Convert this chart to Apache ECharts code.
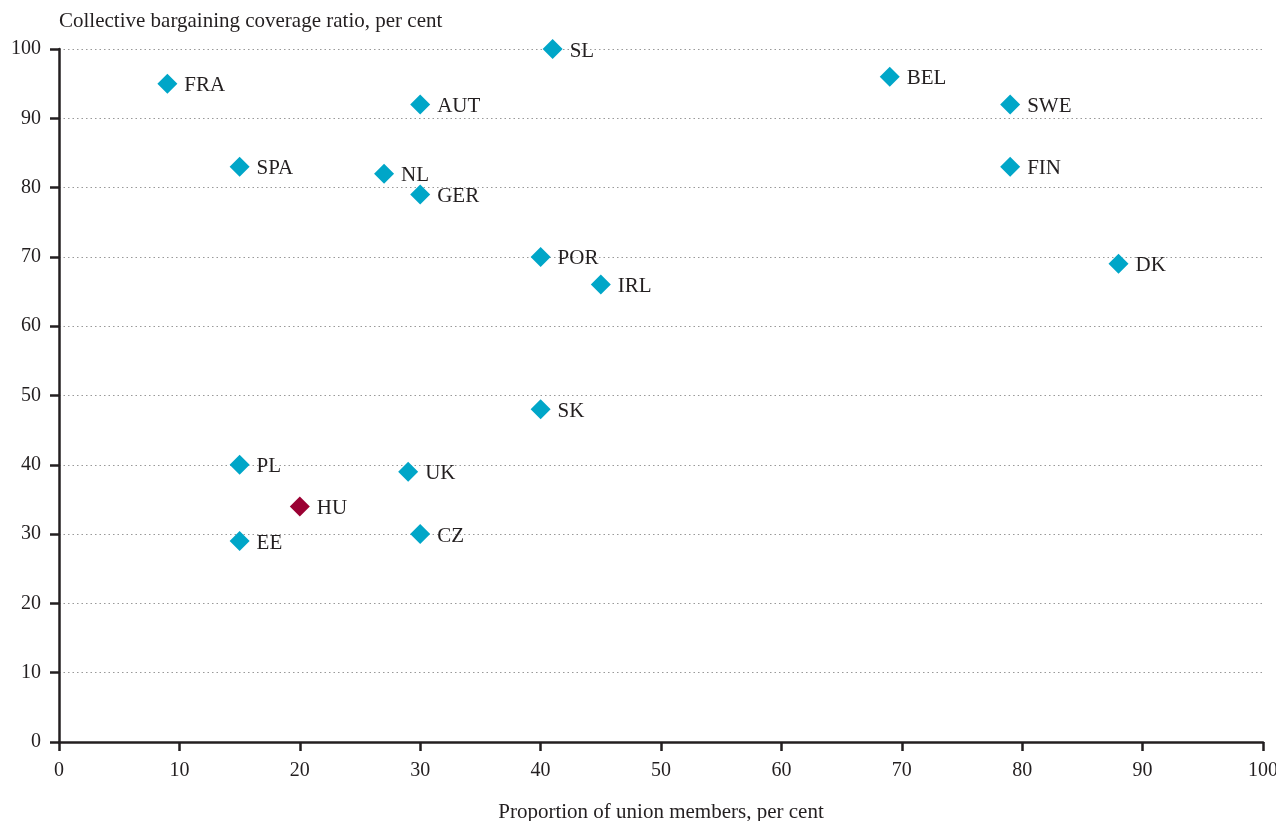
<!DOCTYPE html>
<html><head><meta charset="utf-8">
<script src="https://cdn.jsdelivr.net/npm/echarts@6/dist/echarts.min.js"></script>
<style>html,body{margin:0;padding:0;background:#fff}#c{width:1276px;height:821px}</style>
</head><body><div id="c"></div>
<script>
const countries = ["FRA","SL","AUT","BEL","SWE","FIN","SPA","NL","GER","POR","IRL","DK","SK","PL","UK","EE","CZ"];
const unionMembers = [9,41,30,69,79,79,15,27,30,40,45,88,40,15,29,15,30];
const coverage = [95,100,92,96,92,83,83,82,79,70,66,69,48,40,39,29,30];
const hlCountries = ["HU"];
const hlUnion = [20];
const hlCoverage = [34];
const xTicks = [0,10,20,30,40,50,60,70,80,90,100];

const font = "'Liberation Serif','Times New Roman',serif";
const ink = '#231f20';
const chart = echarts.init(document.getElementById('c'));
const lbl = {show:true, position:'right', formatter:p=>p.data[2], color:ink, fontFamily:font, fontSize:21, distance:7, offset:[0,2]};
chart.setOption({
  animation:false,
  grid:{left:59, right:13, top:49, bottom:79, outerBoundsMode:'none', containLabel:false},
  xAxis:{type:'value', min:0, max:100, interval:10,
    name:'Proportion of union members, per cent', nameLocation:'middle', nameGap:60,
    nameTextStyle:{color:ink, fontFamily:font, fontSize:21},
    axisLine:{lineStyle:{color:ink, width:2.5}},
    axisTick:{show:true, length:9, lineStyle:{color:ink, width:2.5}},
    axisLabel:{color:ink, fontFamily:font, fontSize:20, margin:19, formatter:v=>xTicks.includes(v)?String(v):''},
    splitLine:{show:false}},
  yAxis:{type:'value', min:0, max:100, interval:10,
    name:'Collective bargaining coverage ratio, per cent', nameLocation:'end', nameGap:17,
    nameTextStyle:{color:ink, fontFamily:font, fontSize:21, align:'left'},
    axisLine:{show:true, onZero:false, lineStyle:{color:ink, width:2.5}},
    axisTick:{show:true, length:9, lineStyle:{color:ink, width:2.5}},
    axisLabel:{color:ink, fontFamily:font, fontSize:20, margin:18},
    splitLine:{show:true, lineStyle:{color:'#999', type:[1.5,3], width:1}}},
  series:[
    {type:'scatter', symbol:'diamond', symbolSize:20, itemStyle:{color:'#00A6C8', opacity:1},
      data:countries.map((c,i)=>[unionMembers[i], coverage[i], c]), label:lbl},
    {type:'scatter', symbol:'diamond', symbolSize:20, itemStyle:{color:'#9B0033', opacity:1},
      data:hlCountries.map((c,i)=>[hlUnion[i], hlCoverage[i], c]), label:lbl}
  ]
});
</script></body></html>
